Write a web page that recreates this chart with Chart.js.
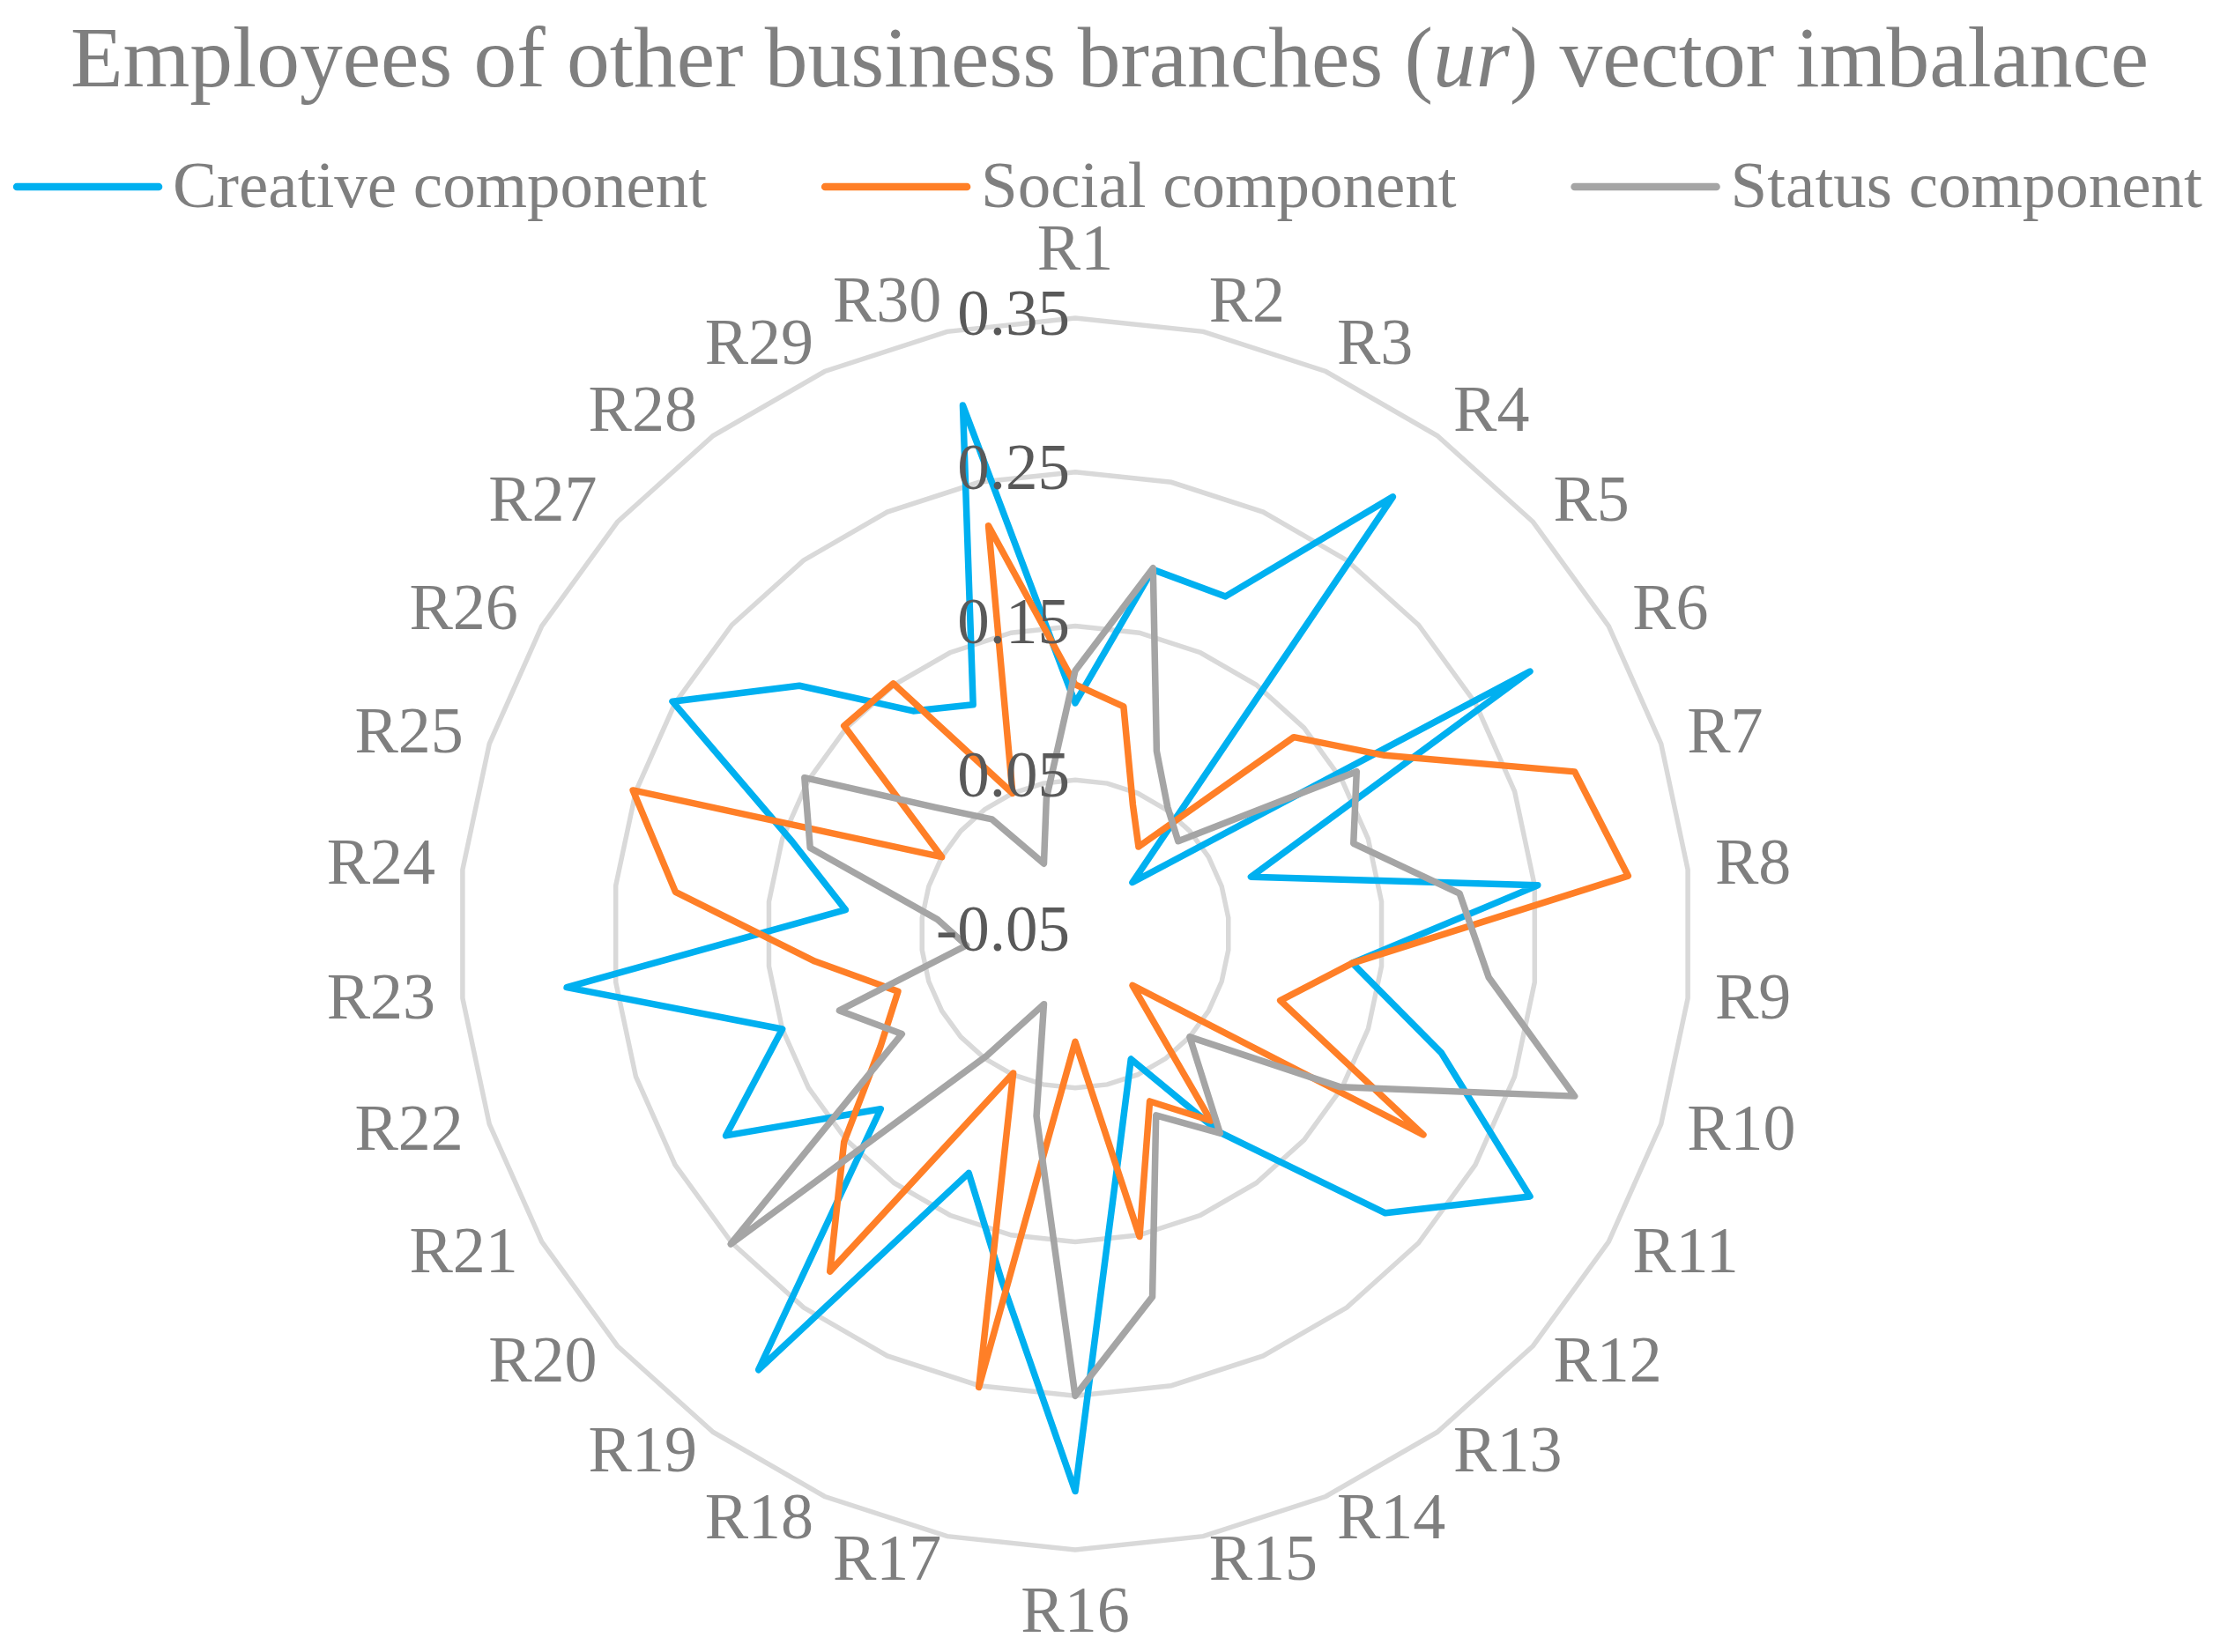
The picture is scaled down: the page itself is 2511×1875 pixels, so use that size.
<!DOCTYPE html>
<html>
<head>
<meta charset="utf-8">
<script src="https://cdn.jsdelivr.net/npm/chart.js@4/dist/chart.umd.min.js"></script>
<style>
  html, body { margin: 0; padding: 0; background: #ffffff; }
  #wrap { width: 2511px; height: 1875px; position: relative; }
  canvas { display: block; }
</style>
</head>
<body>
<div id="wrap"><canvas id="c" width="2511" height="1875"></canvas></div>
<script>
// ---------------- data ----------------
const categories = ['R1','R2','R3','R4','R5','R6','R7','R8','R9','R10',
                    'R11','R12','R13','R14','R15','R16','R17','R18','R19','R20',
                    'R21','R22','R23','R24','R25','R26','R27','R28','R29','R30'];

const creative = [0.100, 0.192, 0.190, 0.301, 0.000, 0.291, 0.070, 0.252, 0.131, 0.200,
                  0.291, 0.221, 0.109, 0.039, 0.090, 0.312, 0.180, 0.120, 0.300, 0.120,
                  0.212, 0.150, 0.282, 0.100, 0.143, 0.252, 0.191, 0.129, 0.113, 0.301];

const social   = [0.112, 0.101, 0.042, 0.020, 0.141, 0.182, 0.291, 0.311, 0.131, 0.090,
                  0.211, 0.000, 0.100, 0.069, 0.151, 0.020, 0.251, 0.049, 0.221, 0.152,
                  0.096, 0.071, 0.120, 0.211, 0.252, 0.050, 0.152, 0.151, 0.050, 0.221];

const status   = [0.121, 0.193, 0.080, 0.052, 0.040, 0.161, 0.140, 0.201, 0.220, 0.291,
                  0.149, 0.050, 0.110, 0.079, 0.191, 0.250, 0.071, 0.000, 0.048, 0.251,
                  0.080, 0.111, 0.021, 0.040, 0.131, 0.153, 0.073, 0.042, 0.000, 0.040];

const seriesNames = ['Creative component', 'Social component', 'Status component'];
const tickLabels  = ['-0.05', '0.05', '0.15', '0.25', '0.35'];
const scaleMin = -0.05;
const scaleMax = 0.35;
const scaleStep = 0.1;
const titleParts = [
  { text: 'Employees of other business branches (', italic: false },
  { text: 'ur', italic: true },
  { text: ') vector imbalance', italic: false }
];

// ---------------- styles ----------------
const colors = ['#00B0F0', '#FF7F27', '#A5A5A5'];
const FONT = '"Liberation Serif", "Times New Roman", serif';
const textGray = '#7F7F7F';

Chart.defaults.font.family = FONT;

// Title, legend and tick-label drawing plugin
const decorPlugin = {
  id: 'decor',
  afterDatasetsDraw(chart) {
    const ctx = chart.ctx;
    const scale = chart.scales.r;
    ctx.save();
    ctx.font = '73px ' + FONT;
    ctx.fillStyle = '#595959';
    ctx.textAlign = 'right';
    ctx.textBaseline = 'middle';
    scale.ticks.forEach((t, i) => {
      const p = scale.getPointPositionForValue(0, t.value);
      const lbl = (t.label !== undefined && t.label !== '') ? t.label : tickLabels[i];
      ctx.fillText(lbl, scale.xCenter - 6, p.y);
    });
    ctx.restore();
  },
  afterDraw(chart) {
    const ctx = chart.ctx;
    ctx.save();
    // ---- title ----
    const tSize = 97.5;
    let total = 0;
    const widths = titleParts.map(p => {
      ctx.font = (p.italic ? 'italic ' : '') + tSize + 'px ' + FONT;
      const w = ctx.measureText(p.text).width;
      total += w;
      return w;
    });
    let x = 1259 - total / 2;
    ctx.fillStyle = textGray;
    ctx.textBaseline = 'alphabetic';
    ctx.textAlign = 'left';
    titleParts.forEach((p, i) => {
      ctx.font = (p.italic ? 'italic ' : '') + tSize + 'px ' + FONT;
      ctx.fillText(p.text, x, 98);
      x += widths[i];
    });
    // ---- legend ----
    const lSize = 75;
    ctx.font = lSize + 'px ' + FONT;
    const lineLen = 169, gapText = 12, gapItem = 130;
    const tw = seriesNames.map(s => ctx.measureText(s).width);
    let lw = 0;
    tw.forEach(w => { lw += lineLen + gapText + w; });
    lw += gapItem * (seriesNames.length - 1);
    let lx = 1257 - lw / 2;
    const ly = 212;
    seriesNames.forEach((s, i) => {
      ctx.strokeStyle = colors[i];
      ctx.lineWidth = 8.5;
      ctx.lineCap = 'round';
      ctx.beginPath();
      ctx.moveTo(lx + 4, ly);
      ctx.lineTo(lx + lineLen - 4, ly);
      ctx.stroke();
      ctx.fillStyle = textGray;
      ctx.fillText(s, lx + lineLen + gapText, 235);
      lx += lineLen + gapText + tw[i] + gapItem;
    });
    ctx.restore();
  }
};

function ds(label, data, color, order) {
  return {
    label: label,
    data: data,
    borderColor: color,
    backgroundColor: color,
    borderWidth: 7.5,
    pointRadius: 0,
    pointHoverRadius: 0,
    fill: false,
    tension: 0,
    borderJoinStyle: 'round',
    borderCapStyle: 'round',
    order: order
  };
}

new Chart(document.getElementById('c'), {
  type: 'radar',
  data: {
    labels: categories,
    datasets: [
      ds(seriesNames[0], creative, colors[0], 3),
      ds(seriesNames[1], social, colors[1], 2),
      ds(seriesNames[2], status, colors[2], 1)
    ]
  },
  options: {
    responsive: false,
    devicePixelRatio: 1,
    animation: false,
    layout: { padding: { top: 288, bottom: 41, left: 0, right: 71 } },
    plugins: {
      legend: { display: false },
      title: { display: false },
      tooltip: { enabled: false }
    },
    scales: {
      r: {
        min: scaleMin,
        max: scaleMax,
        ticks: {
          stepSize: scaleStep,
          display: false,
          callback: (v, i) => tickLabels[i]
        },
        grid: { color: '#D9D9D9', lineWidth: 5.5, circular: false },
        angleLines: { display: false },
        pointLabels: {
          display: true,
          color: textGray,
          font: { family: FONT, size: 74, lineHeight: 0.001 },
          padding: (ctx) => (ctx.index === 0 || ctx.index === 15) ? 74 : 31
        }
      }
    }
  },
  plugins: [decorPlugin]
});
</script>
</body>
</html>
